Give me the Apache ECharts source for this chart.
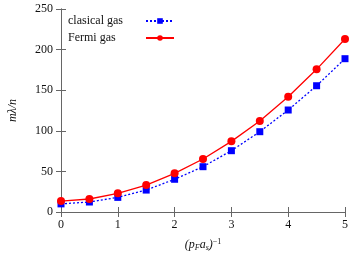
<!DOCTYPE html>
<html><head><meta charset="utf-8">
<script src="https://cdn.jsdelivr.net/npm/echarts@6/dist/echarts.min.js"></script>
<style>html,body{margin:0;padding:0;background:#fff}#c{width:354px;height:254px}</style>
</head><body><div id="c"></div>
<script>
const xValues = [0, 0.5, 1, 1.5, 2, 2.5, 3, 3.5, 4, 4.5, 5];
const classicalGas = [10, 12.3, 18, 27, 40.3, 55.8, 75.5, 98.9, 125.6, 155.5, 188.8];
const fermiGas = [13.5, 16, 23, 33.2, 47.6, 65.3, 87, 112, 142, 175.7, 213];
const seriesNames = ['clasical gas', 'Fermi gas'];

const font = 'Liberation Serif';
const chart = echarts.init(document.getElementById('c'), null, {renderer: 'canvas'});
const axisLine = {show: true, lineStyle: {color: '#666', width: 1}};
const tick = {show: true, inside: true, length: 5, lineStyle: {color: '#666'}};
chart.setOption({
  animation: false,
  grid: {left: 61, right: 9, top: 9, bottom: 42, containLabel: false, outerBoundsMode: 'none'},
  legend: {
    data: seriesNames, orient: 'vertical', left: 68, top: 15, align: 'right',
    itemWidth: 28, itemHeight: 7, itemGap: 5, padding: [0, 0, 0, 0],
    formatter: name => '{t|' + name + '}',
    textStyle: {fontFamily: font, fontSize: 12, color: '#111',
      rich: {t: {fontFamily: font, fontSize: 12, color: '#111', width: 73, align: 'left'}}}
  },
  xAxis: [
    {type: 'value', min: 0, max: 5, interval: 1, axisLine, axisTick: tick, splitLine: {show: false},
     axisLabel: {fontFamily: font, fontSize: 12, color: '#111', margin: 7},
     name: '{n|(p}{s|F}{n|a}{s|s}{n|)}{p|−1}', nameLocation: 'middle', nameGap: 26,
     nameTextStyle: {fontFamily: font, color: '#111', rich: {
       n: {fontFamily: font, fontSize: 12, fontStyle: 'italic', color: '#111'},
       s: {fontFamily: font, fontSize: 8, fontStyle: 'italic', color: '#111', verticalAlign: 'bottom', padding: [6, 0, 0, 0]},
       p: {fontFamily: font, fontSize: 8, color: '#111', verticalAlign: 'top', padding: [0, 0, 6, 0]}
     }}},
    {type: 'value', min: 0, max: 5, interval: 1, position: 'top', axisLine, axisTick: tick,
     axisLabel: {show: false}, splitLine: {show: false}}
  ],
  yAxis: [
    {type: 'value', min: 0, max: 250, interval: 50, axisLine, axisTick: tick, splitLine: {show: false},
     axisLabel: {fontFamily: font, fontSize: 12, color: '#111', margin: 8},
     name: 'mλ/n', nameLocation: 'middle', nameGap: 42, nameRotate: 90,
     nameTextStyle: {fontFamily: font, fontSize: 12, fontStyle: 'italic', color: '#111'}},
    {type: 'value', min: 0, max: 250, interval: 50, position: 'right', axisLine, axisTick: tick,
     axisLabel: {show: false}, splitLine: {show: false}}
  ],
  series: [
    {name: seriesNames[0], type: 'line', data: xValues.map((x, i) => [x, classicalGas[i]]),
     symbol: 'rect', symbolSize: 7, itemStyle: {color: '#0000ff'},
     lineStyle: {color: '#0000ff', width: 1.3, type: [2, 2]}},
    {name: seriesNames[1], type: 'line', data: xValues.map((x, i) => [x, fermiGas[i]]),
     symbol: 'circle', symbolSize: 8, itemStyle: {color: '#ff0000'},
     lineStyle: {color: '#ff0000', width: 1.3}}
  ]
});
</script></body></html>
